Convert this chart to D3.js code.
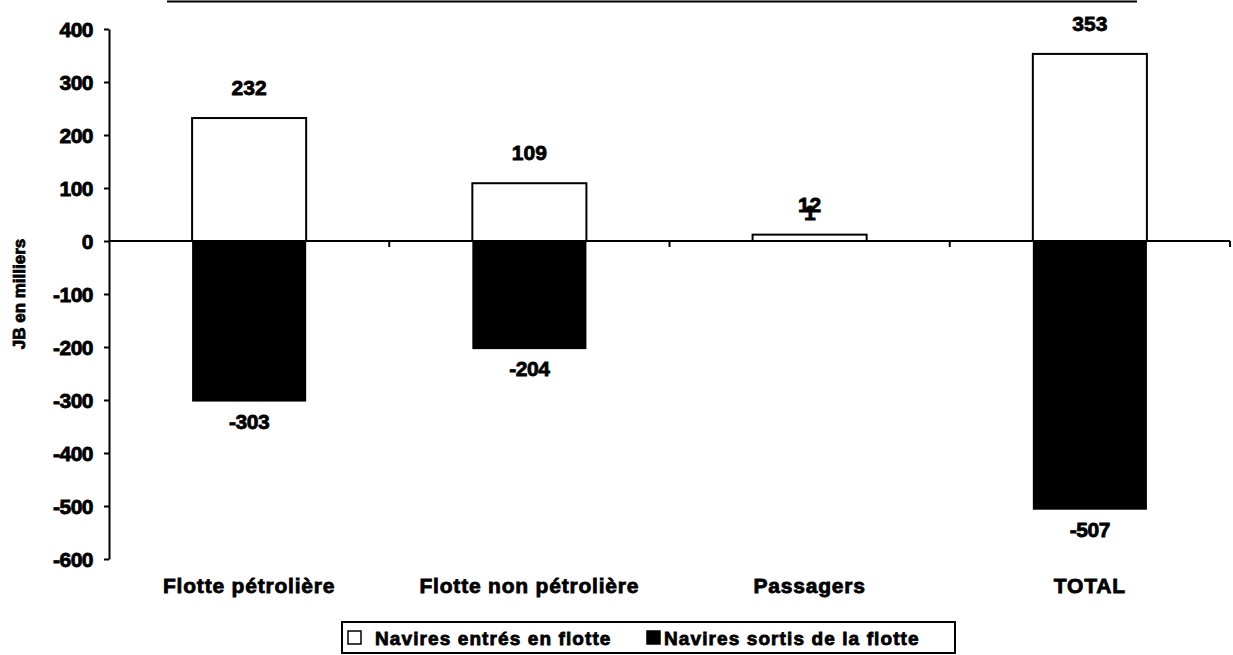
<!DOCTYPE html>
<html>
<head>
<meta charset="utf-8">
<script src="https://cdn.jsdelivr.net/npm/d3@7"></script>
<style>
  html, body { margin: 0; padding: 0; background: #fff; }
  svg text { font-family: "Liberation Sans", Arial, sans-serif; font-weight: bold; fill: #000; stroke: #000; stroke-width: 0.8px; }
</style>
</head>
<body>
<svg id="chart" width="1233" height="655"></svg>
<script>
// data
const categories = ['Flotte pétrolière', 'Flotte non pétrolière', 'Passagers', 'TOTAL'];
const entres = [232, 109, 12, 353];     // Navires entrés en flotte
const sortis = [-303, -204, 1, -507];   // Navires sortis de la flotte
const yTicks = [400, 300, 200, 100, 0, -100, -200, -300, -400, -500, -600];
const seriesNames = ['Navires entrés en flotte', 'Navires sortis de la flotte'];

const svg = d3.select('#chart');

// plot area
const plot = { left: 109, right: 1230, top: 29, bottom: 559 };

const x = d3.scaleBand()
  .domain(categories)
  .range([plot.left, plot.right])
  .paddingInner(0.593)
  .paddingOuter(0.2965);

const y = d3.scaleLinear()
  .domain([-600, 400])
  .range([plot.bottom, plot.top]);

// plain hyphen for negatives, like the original
const fmt = (d) => String(d);

// stray rule at top of the page
svg.append('line')
  .attr('x1', 167).attr('x2', 1137)
  .attr('y1', 1.5).attr('y2', 1.5)
  .attr('stroke', '#000').attr('stroke-width', 2);

// bars: white series first, black series on top
const bars = svg.append('g');
bars.selectAll('rect.entres')
  .data(entres)
  .join('rect')
  .attr('class', 'entres')
  .attr('x', (d, i) => x(categories[i]))
  .attr('width', x.bandwidth())
  .attr('y', (d) => y(Math.max(0, d)))
  .attr('height', (d) => Math.abs(y(d) - y(0)))
  .attr('fill', '#fff')
  .attr('stroke', '#000')
  .attr('stroke-width', 2);

bars.selectAll('rect.sortis')
  .data(sortis)
  .join('rect')
  .attr('class', 'sortis')
  .attr('x', (d, i) => x(categories[i]))
  .attr('width', x.bandwidth())
  .attr('y', (d) => y(Math.max(0, d)))
  .attr('height', (d) => Math.abs(y(d) - y(0)))
  .attr('fill', '#000');

// y axis
const yAxis = svg.append('g')
  .attr('transform', `translate(${plot.left},0)`)
  .call(d3.axisLeft(y).tickValues(yTicks).tickFormat(fmt)
    .tickSize(5).tickPadding(11).tickSizeOuter(0));
yAxis.select('.domain').attr('stroke-width', 2);
yAxis.selectAll('.tick line').attr('stroke-width', 2);
yAxis.selectAll('.tick text')
  .attr('font-size', 21)
  .attr('dy', '0.36em')
  .style('letter-spacing', '-0.5px');

// zero line with category separators
const xAxis = svg.append('g')
  .attr('transform', `translate(0,${y(0)})`);
xAxis.append('line')
  .attr('x1', plot.left).attr('x2', plot.right)
  .attr('stroke', '#000').attr('stroke-width', 2);
xAxis.selectAll('line.sep')
  .data(d3.range(1, categories.length + 1))
  .join('line')
  .attr('class', 'sep')
  .attr('x1', (i) => plot.left + i * x.step())
  .attr('x2', (i) => plot.left + i * x.step())
  .attr('y1', 0).attr('y2', 6)
  .attr('stroke', '#000').attr('stroke-width', 2);

// category labels
svg.append('g')
  .selectAll('text')
  .data(categories)
  .join('text')
  .attr('x', (d) => x(d) + x.bandwidth() / 2)
  .attr('y', 593)
  .attr('text-anchor', 'middle')
  .attr('font-size', 21)
  .style('letter-spacing', '0.8px')
  .text((d) => d);

// value labels
const labels = svg.append('g').attr('font-size', 21).attr('text-anchor', 'middle');
labels.selectAll('text.entres')
  .data(entres)
  .join('text')
  .attr('x', (d, i) => x(categories[i]) + x.bandwidth() / 2)
  .attr('y', (d) => y(d) - 23)
  .text(fmt);
labels.selectAll('text.sortis')
  .data(sortis)
  .join('text')
  .attr('x', (d, i) => x(categories[i]) + x.bandwidth() / 2)
  .attr('y', (d) => (d < 0 ? y(d) + 27 : y(d) - 20))
  .style('letter-spacing', '-0.5px')
  .text(fmt);

// y axis title
svg.append('text')
  .attr('transform', `translate(25,${(plot.top + plot.bottom) / 2}) rotate(-90)`)
  .attr('text-anchor', 'middle')
  .attr('font-size', 17)
  .text('JB en milliers');

// legend
const legend = svg.append('g');
legend.append('rect')
  .attr('x', 342).attr('y', 622)
  .attr('width', 613).attr('height', 31)
  .attr('fill', '#fff').attr('stroke', '#000').attr('stroke-width', 2);

const items = [
  { name: seriesNames[0], fill: '#fff', x: 348, tx: 375 },
  { name: seriesNames[1], fill: '#000', x: 647, tx: 664 },
];
items.forEach((it) => {
  legend.append('rect')
    .attr('x', it.x).attr('y', 631)
    .attr('width', 13).attr('height', 13)
    .attr('fill', it.fill).attr('stroke', '#000').attr('stroke-width', 1.5);
  legend.append('text')
    .attr('x', it.tx).attr('y', 645)
    .attr('font-size', 19)
    .style('letter-spacing', '1.1px')
    .text(it.name);
});
</script>
</body>
</html>
